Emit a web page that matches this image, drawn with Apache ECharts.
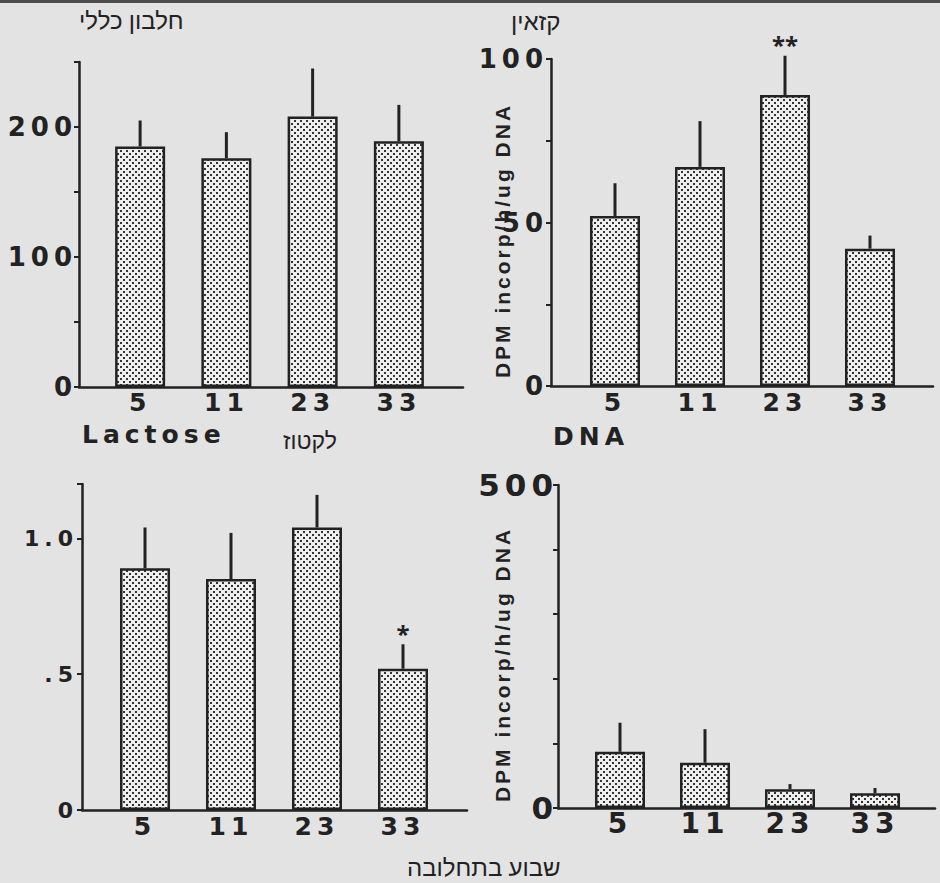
<!DOCTYPE html>
<html lang="he">
<head>
<meta charset="UTF-8">
<title>חלבון, קזאין, לקטוז ו-DNA לפי שבוע בתחלובה</title>
<script src="https://cdn.jsdelivr.net/npm/echarts@6/dist/echarts.min.js"></script>
<style>
    html, body { margin: 0; padding: 0; background: #e3e3e3; }
    #chart { width: 940px; height: 883px; }
    /* the scanned figure uses a wide, loosely spaced face */
    #chart text[style*="DejaVu Sans"] { letter-spacing: 5px; }
    #chart text[style*="Liberation Sans"] { letter-spacing: 3px; }
</style>
</head>
<body>
<div id="chart"></div>
<script>
// week of lactation
var weeks = ['5', '11', '23', '33'];

// total protein
var proteinMean = [185, 176, 208, 189];
var proteinErr = [20, 20, 37, 28];
var proteinTicks = [0, 100, 200];

// casein, DPM incorp/h/ug DNA
var caseinMean = [52, 67, 89, 42];
var caseinErr = [10, 14, 12, 4];
var caseinSig = ['', '', '**', ''];
var caseinTicks = [0, 50, 100];

// lactose
var lactoseMean = [0.89, 0.85, 1.04, 0.52];
var lactoseErr = [0.15, 0.17, 0.12, 0.09];
var lactoseSig = ['', '', '', '*'];
var lactoseTicks = [0, 0.5, 1.0];
var lactoseTickText = ['0', '.5', '1.0'];

// DNA, DPM incorp/h/ug DNA
var dnaMean = [87, 70, 29, 23];
var dnaErr = [45, 52, 8, 8];
var dnaTicks = [0, 500];

var INK = '#222222';
var NUM_FONT = 'DejaVu Sans';
var NAME_FONT = 'Liberation Sans';
var HEB_FONT = 'Noto Sans, sans-serif';
var yName = 'DPM incorp/h/ug DNA';

// stippled bar fill
function stipple() {
    var c = document.createElement('canvas');
    c.width = 6; c.height = 6;
    var g = c.getContext('2d');
    g.fillStyle = '#eeeeee';
    g.fillRect(0, 0, 6, 6);
    g.fillStyle = '#333333';
    g.fillRect(0, 0, 2, 2);
    g.fillRect(3, 3, 2, 2);
    return { image: c, repeat: 'repeat', imageWidth: 6, imageHeight: 6 };
}
var barFill = stipple();

var grids = [], xAxes = [], yAxes = [], series = [];

function errorBars(sig) {
    return function (params, api) {
        var x = api.value(0), m = api.value(1), e = api.value(2);
        var base = api.coord([x, m]);
        var tip = api.coord([x, m + e]);
        var children = [{
            type: 'line',
            shape: { x1: base[0], y1: base[1], x2: tip[0], y2: tip[1] },
            style: { stroke: INK, lineWidth: 3 }
        }];
        var s = sig ? sig[params.dataIndex] : '';
        if (s) {
            children.push({
                type: 'text',
                x: tip[0], y: tip[1] - 11,
                style: {
                    text: s, fill: INK, fontFamily: 'Noto Sans', fontWeight: 'bold',
                    fontSize: 24, align: 'center', verticalAlign: 'middle'
                }
            });
        }
        return { type: 'group', children: children };
    };
}

function addPanel(p) {
    var outer = grids.length, inner = outer + 1;
    grids.push({ left: p.left, top: p.top, width: p.width, height: p.height, outerBoundsMode: 'none' });
    grids.push({ left: p.innerLeft, top: p.top, width: p.innerWidth, height: p.height, outerBoundsMode: 'none' });

    // outer grid: the axis frame and the value scale
    xAxes.push({
        type: 'value', gridIndex: outer, min: 0, max: 1,
        axisLine: { show: true, lineStyle: { color: INK, width: 2.5 } },
        axisTick: { show: false }, axisLabel: { show: false }, splitLine: { show: false }
    });
    yAxes.push({
        type: 'value', gridIndex: outer, min: 0, max: p.max, interval: p.interval,
        axisLine: { show: true, lineStyle: { color: INK, width: 2.5 } },
        axisTick: { show: true, length: 5, lineStyle: { color: INK, width: 2 } },
        splitLine: { show: false },
        axisLabel: {
            color: INK, fontFamily: NUM_FONT, fontWeight: 'bold', fontSize: p.yFont, margin: p.yMargin,
            formatter: function (v) {
                var k = p.ticks.indexOf(v);
                if (k < 0) return '';
                return p.tickText ? p.tickText[k] : String(v);
            }
        },
        name: p.name || '',
        nameLocation: 'middle', nameGap: p.nameGap || 0, nameRotate: 90, nameMoveOverlap: false,
        nameTextStyle: { color: INK, fontFamily: NAME_FONT, fontWeight: 'bold', fontSize: 21, padding: [0, 36, 0, 0] }
    });

    // inner grid: categories and bars
    xAxes.push({
        type: 'category', gridIndex: inner, data: weeks,
        axisLine: { show: false }, axisTick: { show: false },
        axisLabel: { color: INK, fontFamily: NUM_FONT, fontWeight: 'bold', fontSize: p.xFont, margin: p.xMargin }
    });
    yAxes.push({ type: 'value', gridIndex: inner, min: 0, max: p.max, show: false });

    series.push({
        type: 'bar', xAxisIndex: inner, yAxisIndex: inner, data: p.mean,
        barWidth: 50, silent: true,
        itemStyle: { color: barFill, borderColor: INK, borderWidth: 2.5 }
    });
    series.push({
        type: 'custom', xAxisIndex: inner, yAxisIndex: inner, silent: true, z: 3,
        renderItem: errorBars(p.sig),
        encode: { x: 0, y: 1 },
        data: p.mean.map(function (m, i) { return [i, m, p.err[i]]; })
    });
}

addPanel({ left: 79, top: 62, width: 384, height: 325, innerLeft: 97, innerWidth: 345,
    max: 250, interval: 50, ticks: proteinTicks, mean: proteinMean, err: proteinErr,
    yFont: 26, yMargin: 2, xFont: 25, xMargin: 3 });
addPanel({ left: 551, top: 59, width: 382, height: 327, innerLeft: 572.5, innerWidth: 340,
    max: 100, interval: 25, ticks: caseinTicks, mean: caseinMean, err: caseinErr, sig: caseinSig,
    yFont: 26, yMargin: 3, xFont: 25, xMargin: 4, name: yName, nameGap: 38 });
addPanel({ left: 82, top: 484, width: 385, height: 326, innerLeft: 102, innerWidth: 344,
    max: 1.2, interval: 0.5, ticks: lactoseTicks, tickText: lactoseTickText,
    mean: lactoseMean, err: lactoseErr, sig: lactoseSig,
    yFont: 22, yMargin: 4, xFont: 25, xMargin: 4 });
addPanel({ left: 558, top: 485, width: 377, height: 323, innerLeft: 577.5, innerWidth: 340,
    max: 500, interval: 100, ticks: dnaTicks, mean: dnaMean, err: dnaErr,
    yFont: 31, yMargin: 0, xFont: 28, xMargin: 1, name: yName, nameGap: 45 });

function label(text, left, top, font, size, weight) {
    return { text: text, left: left, top: top, padding: 0,
        textStyle: { color: INK, fontFamily: font, fontSize: size, fontWeight: weight || 'normal' } };
}

var chart = echarts.init(document.getElementById('chart'), null, { renderer: 'svg' });
chart.setOption({
    backgroundColor: '#e3e3e3',
    animation: false,
    title: [
        label('חלבון כללי', 79, 7, HEB_FONT, 24),
        label('קזאין', 511, 8, HEB_FONT, 24),
        label('Lactose', 82, 422, NUM_FONT, 25, 'bold'),
        label('לקטוז', 283, 428, HEB_FONT, 23),
        label('DNA', 553, 424, NUM_FONT, 25, 'bold'),
        label('שבוע בתחלובה', 407, 854, HEB_FONT, 24)
    ],
    graphic: [{ type: 'rect', shape: { x: 0, y: 0, width: 940, height: 3 }, style: { fill: '#4d4d4d' } }],
    grid: grids,
    xAxis: xAxes,
    yAxis: yAxes,
    series: series
});
</script>
</body>
</html>
